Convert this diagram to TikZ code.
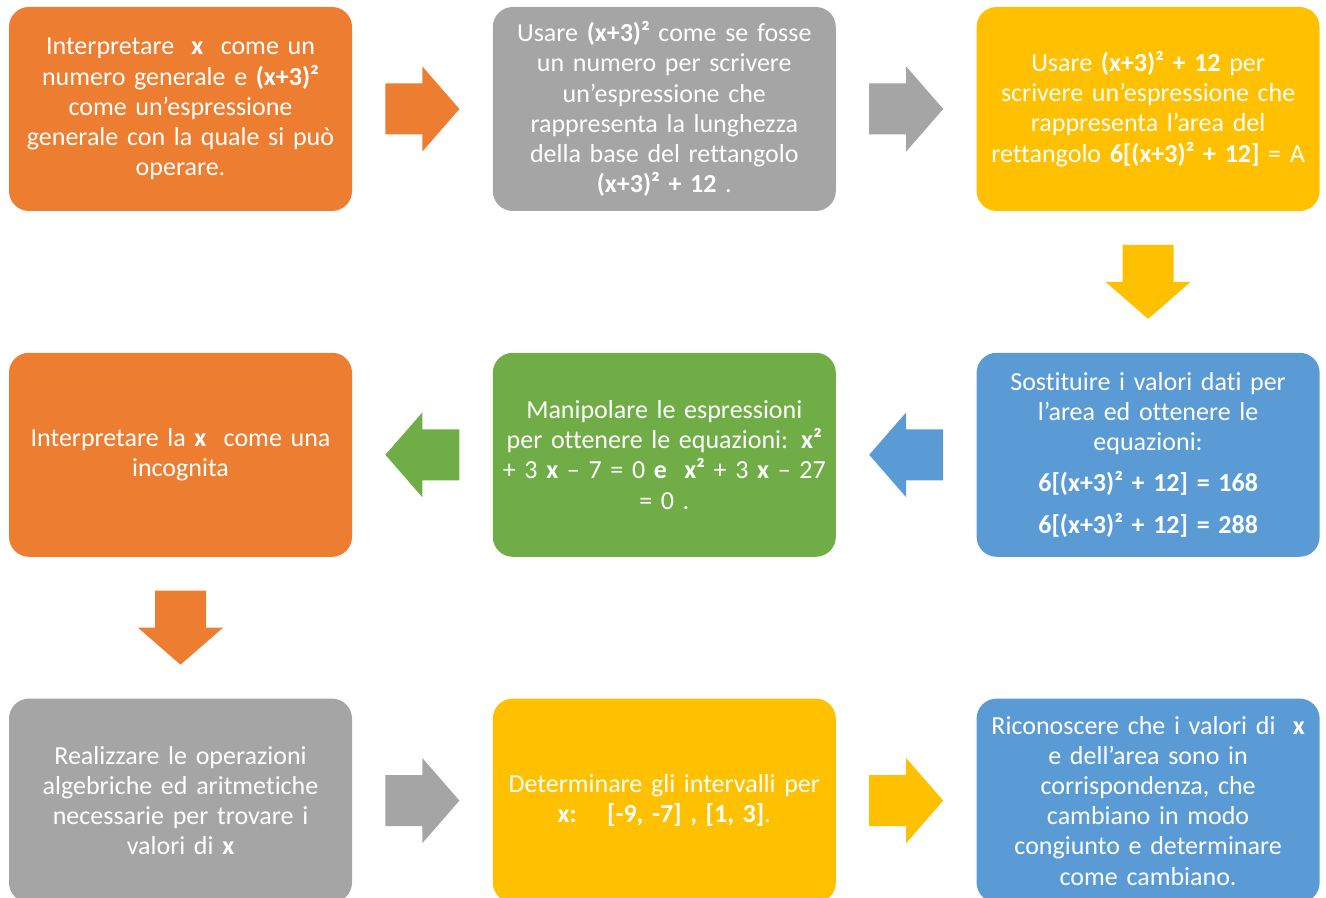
\documentclass[tikz,border=0pt]{standalone}
\usepackage{fontspec}
\setmainfont{Carlito}[Ligatures=NoCommon]
\usetikzlibrary{positioning,calc}
\definecolor{cOrange}{HTML}{ED7D31}
\definecolor{cGray}{HTML}{A5A5A5}
\definecolor{cYellow}{HTML}{FFC000}
\definecolor{cBlue}{HTML}{5B9BD5}
\definecolor{cGreen}{HTML}{70AD47}
% block arrow half way between two anchors: colour, from, to, angle
\newcommand{\flowarrow}[4]{%
  \fill[#1,shift={($(#2)!0.5!(#3)$)},rotate=#4]
    (-18.5pt,-12.75pt) -- (0pt,-12.75pt) -- (0pt,-21.25pt) -- (18.5pt,0pt)
    -- (0pt,21.25pt) -- (0pt,12.75pt) -- (-18.5pt,12.75pt) -- cycle;}

\begin{document}
\begin{tikzpicture}[
box/.style = {
    fill=#1, text=white,
    rounded corners=10pt,
    minimum width=171.5pt, minimum height=102pt,
    text width=171.5pt, align=center, inner sep=0pt,
    font=\fontsize{13}{15.1}\selectfont,
                            },
                    ]
\useasboundingbox (0,0) rectangle (663pt,-449pt);
% first row
\node[box=cOrange] (interp) at (90.25pt,-54.5pt)
    {Interpretare \ \textbf{x} \ come un\\
     numero generale e \textbf{(x+3)²}\\
     come un’espressione\\
     generale con la quale si può\\
     operare.};
\node[box=cGray, right=70pt of interp] (base)
    {Usare \textbf{(x+3)²} come se fosse\\
     un numero per scrivere\\
     un’espressione che\\
     rappresenta la lunghezza\\
     della base del rettangolo\\
     \textbf{(x+3)² + 12} .};
\node[box=cYellow, right=70pt of base] (area)
    {Usare \textbf{(x+3)² + 12} per\\
     scrivere un’espressione che\\
     rappresenta l’area del\\
     rettangolo \textbf{6[(x+3)² + 12]} = A};
% second row
\node[box=cBlue, below=70.5pt of area] (subst)
    {Sostituire i valori dati per\\
     l’area ed ottenere le\\
     equazioni:\\[5pt]
     \textbf{6[(x+3)² + 12] = 168}\\[6pt]
     \textbf{6[(x+3)² + 12] = 288}};
\node[box=cGreen, left=70pt of subst] (manip)
    {Manipolare le espressioni\\
     per ottenere le equazioni: \textbf{x²}\\
     + 3 \textbf{x} – 7 = 0 \textbf{e} \ \textbf{x²} + 3 \textbf{x} – 27\\
     = 0 .};
\node[box=cOrange, left=70pt of manip] (incog)
    {Interpretare la \textbf{x} \ come una\\
     incognita};
% third row
\node[box=cGray, below=70.5pt of incog] (oper)
    {Realizzare le operazioni\\
     algebriche ed aritmetiche\\
     necessarie per trovare i\\
     valori di \textbf{x}};
\node[box=cYellow, right=70pt of oper] (interv)
    {Determinare gli intervalli per\\
     \textbf{x: \ \ [-9, -7] , [1, 3]}.};
\node[box=cBlue, right=70pt of interv] (ricon)
    {Riconoscere che i valori di \ \textbf{x}\\
     e dell’area sono in\\
     corrispondenza, che\\
     cambiano in modo\\
     congiunto e determinare\\
     come cambiano.};
% arrows
\flowarrow{cOrange}{interp.east}{base.west}{0}
\flowarrow{cGray}{base.east}{area.west}{0}
\flowarrow{cYellow}{area.south}{subst.north}{-90}
\flowarrow{cBlue}{subst.west}{manip.east}{180}
\flowarrow{cGreen}{manip.west}{incog.east}{180}
\flowarrow{cOrange}{incog.south}{oper.north}{-90}
\flowarrow{cGray}{oper.east}{interv.west}{0}
\flowarrow{cYellow}{interv.east}{ricon.west}{0}
\end{tikzpicture}
\end{document}
